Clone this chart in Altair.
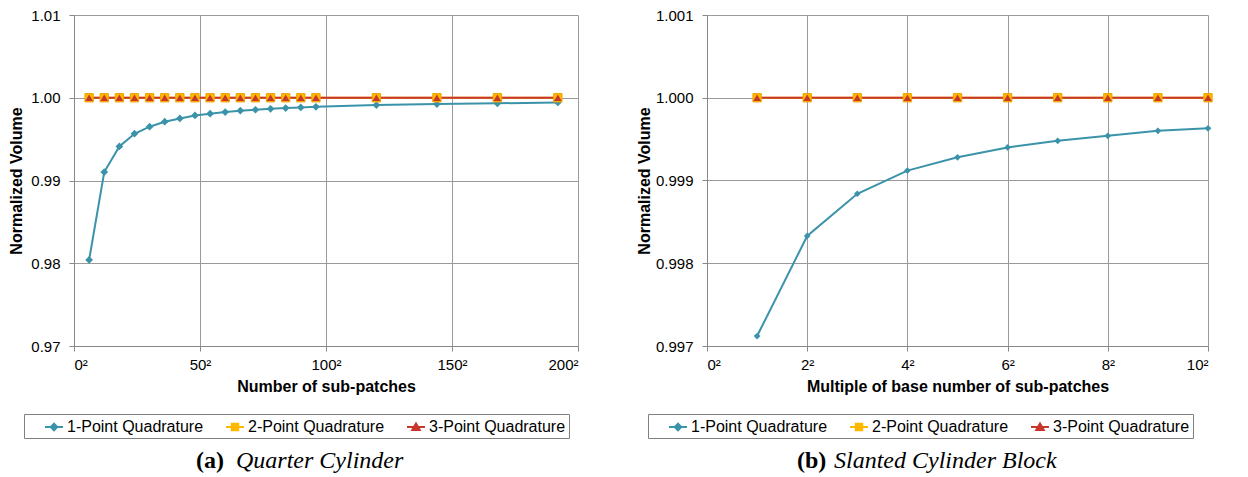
import altair as alt
import pandas as pd

series_names = ["1-Point Quadrature", "2-Point Quadrature", "3-Point Quadrature"]
series_colors = ["#3B93AA", "#FFB800", "#C8372B"]
marker_shapes = ["diamond", "square", "triangle-up"]
legend_paths = [
    "M-1,0L1,0M0,-0.36L0.36,0L0,0.36L-0.36,0Z",
    "M-1,0L1,0M-0.36,-0.36L0.36,-0.36L0.36,0.36L-0.36,0.36Z",
    "M-1,0L1,0M0,-0.4L0.42,0.32L-0.42,0.32Z",
]

# Panel (a) Quarter Cylinder
a_x = [6, 12, 18, 24, 30, 36, 42, 48, 54, 60, 66, 72, 78, 84, 90, 96, 120, 144, 168, 192]
a_1pt = [0.98040, 0.99102, 0.99412, 0.99565, 0.99650, 0.99710, 0.99750, 0.99786, 0.99807, 0.99827,
         0.99843, 0.99855, 0.99867, 0.99875, 0.99883, 0.99891, 0.99912, 0.99924, 0.99933, 0.99943]
a_2pt = [1.0, 1.0, 1.0, 1.0, 1.0, 1.0, 1.0, 1.0, 1.0, 1.0, 1.0, 1.0, 1.0, 1.0, 1.0, 1.0, 1.0, 1.0, 1.0, 1.0]
a_3pt = [1.0, 1.0, 1.0, 1.0, 1.0, 1.0, 1.0, 1.0, 1.0, 1.0, 1.0, 1.0, 1.0, 1.0, 1.0, 1.0, 1.0, 1.0, 1.0, 1.0]
a_xticks = [0, 50, 100, 150, 200]
a_yticks = [0.97, 0.98, 0.99, 1.00, 1.01]

# Panel (b) Slanted Cylinder Block
b_x = [1, 2, 3, 4, 5, 6, 7, 8, 9, 10]
b_1pt = [0.99712, 0.99833, 0.99884, 0.99912, 0.99928, 0.99940, 0.99948, 0.99954, 0.99960, 0.99963]
b_2pt = [1.0, 1.0, 1.0, 1.0, 1.0, 1.0, 1.0, 1.0, 1.0, 1.0]
b_3pt = [1.0, 1.0, 1.0, 1.0, 1.0, 1.0, 1.0, 1.0, 1.0, 1.0]
b_xticks = [0, 2, 4, 6, 8, 10]
b_yticks = [0.997, 0.998, 0.999, 1.000, 1.001]

GRID = "#9a9a9a"


def long_df(xs, ys_list):
    rows = []
    for name, ys in zip(series_names, ys_list):
        for x, y in zip(xs, ys):
            rows.append({"series": name, "x": x, "y": y})
    return pd.DataFrame(rows)


def panel(df, xticks, yticks, xdom, ydom, yfmt, xtitle, tag, caption, w, h,
          ytitle_pad, leg_x, leg_y, cap_x1, cap_x2, sizes):
    base = alt.Chart(df)
    xenc = alt.X("x:Q", scale=alt.Scale(domain=xdom, nice=False, zero=False),
                 axis=alt.Axis(values=xticks, labelExpr="datum.value + '²'", title=xtitle,
                               tickSize=5, labelPadding=6, titlePadding=6))
    yenc = alt.Y("y:Q", scale=alt.Scale(domain=ydom, nice=False, zero=False),
                 axis=alt.Axis(values=yticks, format=yfmt, title="Normalized Volume",
                               tickSize=5, labelPadding=9, titlePadding=ytitle_pad))
    cscale = alt.Scale(domain=series_names, range=series_colors)
    line = base.mark_line(strokeWidth=2).encode(
        x=xenc, y=yenc, color=alt.Color("series:N", scale=cscale, legend=None))
    layers = [line]
    for name, shp, sz in zip(series_names, marker_shapes, sizes):
        extra = {}
        if shp == "square":
            extra = {"stroke": "#F2A200", "strokeWidth": 1}
        pts = base.transform_filter(alt.datum.series == name).mark_point(
            shape=shp, filled=True, size=sz, opacity=1, **extra).encode(
            x="x:Q", y="y:Q", color=alt.Color("series:N", scale=cscale, legend=None))
        layers.append(pts)
    leg = alt.Legend(title=None, orient="none", legendX=leg_x, legendY=leg_y,
                     direction="horizontal", columns=3, symbolSize=324, symbolOffset=17,
                     labelOffset=3, columnPadding=4, padding=3, strokeColor="#808080",
                     fillColor="white", labelLimit=400,
                     labelExpr="datum.label == '3-Point Quadrature' ? datum.label + '       ' : datum.label")
    # scales without explicit domain so this legend is not merged with the hidden colour legend
    legend_layer = base.mark_point(filled=True, opacity=0).encode(
        x="x:Q", y="y:Q",
        fill=alt.Fill("series:N", scale=alt.Scale(range=series_colors), legend=leg),
        stroke=alt.Stroke("series:N", scale=alt.Scale(range=series_colors), legend=leg),
        shape=alt.Shape("series:N", scale=alt.Scale(range=legend_paths), legend=leg),
    )
    layers.append(legend_layer)
    cap_df1 = pd.DataFrame({"t": [tag]})
    cap_df2 = pd.DataFrame({"t": [caption]})
    t1 = alt.Chart(cap_df1).mark_text(align="left", baseline="alphabetic", font="Liberation Serif",
                                      fontSize=24, fontWeight="bold", color="black").encode(
        x=alt.value(cap_x1), y=alt.value(h + 122), text="t:N")
    t2 = alt.Chart(cap_df2).mark_text(align="left", baseline="alphabetic", font="Liberation Serif",
                                      fontSize=24, fontStyle="italic", color="black").encode(
        x=alt.value(cap_x2), y=alt.value(h + 122), text="t:N")
    layers += [t1, t2]
    return alt.layer(*layers).properties(width=w, height=h)


df_a = long_df(a_x, [a_1pt, a_2pt, a_3pt])
df_b = long_df(b_x, [b_1pt, b_2pt, b_3pt])

pa = panel(df_a, a_xticks, a_yticks, [0, 200], [0.97, 1.01], ".2f", "Number of sub-patches",
           "(a)", "Quarter Cylinder", 504, 331, 6, -50, 399, 122, 162, [60, 70, 60])
pb = panel(df_b, b_xticks, b_yticks, [0, 10], [0.997, 1.001], ".3f",
           "Multiple of base number of sub-patches",
           "(b)", "Slanted Cylinder Block", 501, 331, 3, -59, 399, 90, 127, [45, 70, 60])

chart = alt.hconcat(pa, pb, spacing=57).resolve_scale(
    color="independent", fill="independent", stroke="independent", shape="independent",
    x="independent", y="independent"
).resolve_legend(fill="independent", stroke="independent", shape="independent").properties(
    padding={"left": 0, "top": 0, "right": 0, "bottom": 0}
).configure(font="Liberation Sans").configure_view(stroke=None).configure_axis(
    gridColor=GRID, gridWidth=1, domainColor="#888888", tickColor="#888888",
    labelFont="Liberation Sans", labelFontSize=15, labelColor="black",
    titleFont="Liberation Sans", titleFontSize=16, titleFontWeight="bold", titleColor="black"
).configure_legend(
    symbolOpacity=1, symbolStrokeWidth=2, labelFont="Liberation Sans", labelFontSize=16,
    labelColor="black"
)

chart.save("out.html", embed_options={"renderer": "svg", "actions": False})
